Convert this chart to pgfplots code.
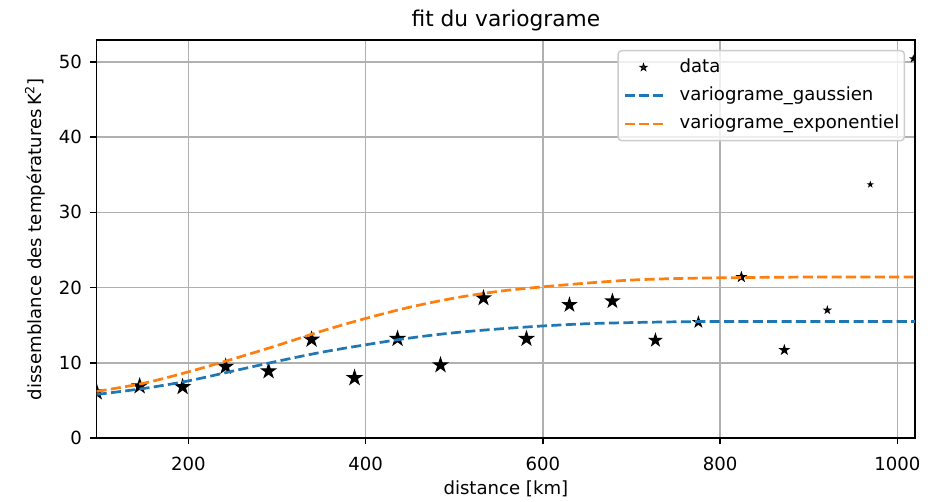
\documentclass[border=0pt]{standalone}
\usepackage{fontspec}
\setmainfont{DejaVu Sans}
\usepackage{pgfplots}
\pgfplotsset{compat=1.18}
\usetikzlibrary{plotmarks}
\definecolor{mblue}{HTML}{1F77B4}
\definecolor{morange}{HTML}{FF7F0E}
\definecolor{mgrid}{HTML}{B0B0B0}
\definecolor{mleg}{HTML}{CCCCCC}
\pgfdeclareplotmark{mstar}{%
  \pgfpathmoveto{\pgfpointpolar{90}{\pgfplotmarksize}}%
  \pgfpathlineto{\pgfpointpolar{126}{0.382\pgfplotmarksize}}%
  \pgfpathlineto{\pgfpointpolar{162}{\pgfplotmarksize}}%
  \pgfpathlineto{\pgfpointpolar{198}{0.382\pgfplotmarksize}}%
  \pgfpathlineto{\pgfpointpolar{234}{\pgfplotmarksize}}%
  \pgfpathlineto{\pgfpointpolar{270}{0.382\pgfplotmarksize}}%
  \pgfpathlineto{\pgfpointpolar{306}{\pgfplotmarksize}}%
  \pgfpathlineto{\pgfpointpolar{342}{0.382\pgfplotmarksize}}%
  \pgfpathlineto{\pgfpointpolar{18}{\pgfplotmarksize}}%
  \pgfpathlineto{\pgfpointpolar{54}{0.382\pgfplotmarksize}}%
  \pgfpathclose
  \pgfusepathqfillstroke}

\pgfplotsset{
  dashleg/.style={legend image code/.code={\draw[##1] (0pt,0pt) -- (21pt,0pt);}},
  starleg/.style={legend image code/.code={\path (0pt,0pt) (21pt,0pt);
    \draw[black, fill=black, line width=0.5pt, mark=mstar, mark size=2pt] plot coordinates {(10.5pt,0pt)};}},
}

\pgfplotstableread{
x y s
96.5 6.1 3.9
145 6.9 3.9
193.5 6.8 3.9
242 9.5 3.9
290.5 8.9 3.9
339 13.1 3.9
387.5 8.0 4.0
436 13.2 3.9
484.5 9.7 3.9
533 18.6 3.8
581.5 13.2 3.8
630 17.7 3.6
678.5 18.2 3.6
727 13.0 3.3
775.5 15.4 2.7
824 21.4 2.4
872.5 11.7 2.3
921 17.0 1.6
969.5 33.7 1.0
1018 50.4 1.3
}\datatab

\pgfplotstableread{
x y
96.5 5.8
150 6.6
200 7.6
250 8.9
300 10.2
350 11.4
400 12.4
450 13.3
500 14.0
550 14.5
600 14.9
650 15.2
700 15.35
750 15.45
800 15.5
900 15.5
1020 15.5
}\gausstab

\pgfplotstableread{
x y
96.5 6.2
150 7.3
200 8.8
250 10.5
300 12.3
350 14.2
400 15.9
450 17.4
500 18.6
550 19.5
600 20.1
650 20.6
700 21.0
750 21.2
800 21.3
900 21.4
1020 21.4
}\exptab

\begin{document}
\begin{tikzpicture}
\begin{axis}[
  scale only axis, width=452.1pt, height=219.9pt,
  xmin=96.5, xmax=1020, ymin=0, ymax=52.9,
  xtick={200,400,600,800,1000}, ytick={0,10,20,30,40,50},
  grid=major, major grid style={mgrid, line width=0.8pt},
  axis line style={black, line width=0.8pt},
  tick align=outside, major tick length=3.5pt,
  tick style={black, line width=0.8pt},
  tick pos=left,
  /pgf/number format/assume math mode=true,
  /pgf/number format/1000 sep={},
  ticklabel style={font=\fontsize{10}{12}\selectfont},
  yticklabel style={inner sep=0pt, xshift=-4.4pt},
  xticklabel style={inner sep=0pt, yshift=-7pt},
  title={fit du variograme},
  title style={font=\fontsize{12}{14}\selectfont, at={(axis description cs:0.5,1.0227)}, anchor=center},
  xlabel={distance [km]},
  xlabel style={font=\fontsize{10}{12}\selectfont, at={(axis description cs:0.5,-0.1282)}, anchor=center},
  ylabel={dissemblance des températures\,K\textsuperscript{2}]},
  ylabel style={font=\fontsize{10}{12}\selectfont, at={(axis description cs:-0.0754,0.5)}, anchor=center},
  clip marker paths=true,
  legend cell align=left,
  legend style={at={(axis description cs:1,1)}, anchor=north east, xshift=-5.5pt, yshift=-5.5pt,
    draw=mleg, line width=0.8pt, fill=white, fill opacity=0.8, text opacity=1, draw opacity=1,
    rounded corners=2pt, inner xsep=2.8pt, inner ysep=1.45pt, row sep=0pt,
    font=\fontsize{10}{12}\selectfont,
    nodes={inner sep=0pt, text height=10.5pt, text depth=5.1pt, anchor=west},
    /tikz/every odd column/.append style={column sep=8.7pt}},
]
\coordinate (sw) at (rel axis cs:0,0);
\coordinate (ne) at (rel axis cs:1,1);
\addlegendimage{starleg}
\addlegendentry{data}
\addplot[scatter, only marks, mark=mstar, forget plot,
  scatter/use mapped color={draw=black, fill=black},
  mark options={line width=0.7pt},
  visualization depends on={\thisrow{s} \as \msz},
  scatter/@pre marker code/.append style={/tikz/mark size=\msz pt}]
  table[x=x, y=y] {\datatab};
\addplot[mblue, line width=1.5pt, dash pattern=on 5.55pt off 2.4pt, smooth, tension=0.5, dashleg]
  table[x=x, y=y] {\gausstab};
\addlegendentry{variograme\_gaussien}
\addplot[morange, line width=1.5pt, dash pattern=on 5.55pt off 2.4pt, smooth, tension=0.5, dashleg]
  table[x=x, y=y] {\exptab};
\addlegendentry{variograme\_exponentiel}
\end{axis}
\pgfresetboundingbox
\path[use as bounding box] ([shift={(-53.4pt,-34.8pt)}]sw) rectangle ([shift={(8.8pt,22.1pt)}]ne);
\end{tikzpicture}
\end{document}
